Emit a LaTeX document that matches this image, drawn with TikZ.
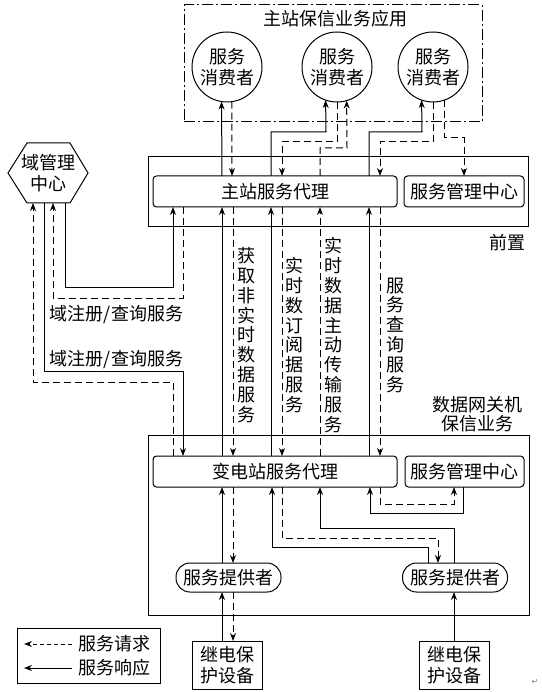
\documentclass[tikz,border=0pt]{standalone}
\usepackage{fontspec}
\setmainfont{Noto Sans CJK SC}
\newfontfamily\symfont{DejaVu Sans}
\usetikzlibrary{arrows.meta}
\begin{document}
\begin{tikzpicture}[x=1pt,y=-1pt,
  every node/.style={font=\fontsize{18}{21}\selectfont, inner sep=0pt, outer sep=0pt},
  frame/.style={draw, line width=1pt},
  rbox/.style={draw, line width=1pt, rounded corners=3.5pt, minimum height=31pt},
  consumer/.style={draw, circle, line width=1pt, minimum size=70pt, align=center},
  prov/.style={draw, line width=1pt, rounded corners=14pt, minimum width=105pt, minimum height=29pt},
  dev/.style={draw, line width=1pt, minimum width=70pt, minimum height=48pt, align=center},
  resp/.style={line width=1pt, -{Stealth[length=8pt,width=6pt]}},
  req/.style={line width=1pt, dash pattern=on 7pt off 4pt, -{Stealth[length=8pt,width=6pt]}},
  vlabel/.style={align=center, font=\fontsize{18}{19.8}\selectfont},
]
\useasboundingbox (0,0) rectangle (541,692);

% application box
\node[frame, dash pattern=on 11pt off 3pt on 2pt off 3pt, minimum width=298pt, minimum height=117pt] (app) at (333,63.5) {};
\node (apptitle) at (335,19) {主站保信业务应用};
\node[consumer] (c1) at (227,67) {服务\\消费者};
\node[consumer] (c2) at (337,67) {服务\\消费者};
\node[consumer] (c3) at (433,67) {服务\\消费者};

% front box
\node[frame, minimum width=380pt, minimum height=70pt] (fw) at (338,192) {};
\node[rbox, minimum width=244pt] (ma) at (275,191.5) {主站服务代理};
\node[rbox, minimum width=120pt] (mm) at (464,191.5) {服务管理中心};
\node (fwlabel) at (507,243) {前置};

% domain management hexagon
\node[minimum width=80pt, minimum height=60pt, align=center] (dm) at (48,173) {域管理\\中心};
\draw[line width=1pt] (dm.west) -- ([xshift=19pt]dm.north west) -- ([xshift=-18pt]dm.north east)
  -- (dm.east) -- ([xshift=-18pt]dm.south east) -- ([xshift=19pt]dm.south west) -- cycle;

% gateway box
\node[frame, minimum width=381pt, minimum height=180pt] (gw) at (338.5,525) {};
\node[align=center, font=\fontsize{18}{19}\selectfont] (gwlabel) at (477,414) {数据网关机\\保信业务};
\node[rbox, minimum width=244pt] (sa) at (275,471.5) {变电站服务代理};
\node[rbox, minimum width=119pt] (sm) at (464.5,471.5) {服务管理中心};
\node[prov] (p1) at (228.5,577.5) {服务提供者};
\node[prov] (p2) at (455,577.5) {服务提供者};

% relay devices
\node[dev] (r1) at (227,665) {继电保\\护设备};
\node[dev] (r2) at (454,665) {继电保\\护设备};

% column labels
\node[vlabel] (l1) at (246,335) {获\\取\\非\\实\\时\\数\\据\\服\\务};
\node[vlabel] (l2) at (294,335) {实\\时\\数\\订\\阅\\据\\服\\务};
\node[vlabel] (l3) at (333,335) {实\\时\\数\\据\\主\\动\\传\\输\\服\\务};
\node[vlabel] (l4) at (395,335) {服\\务\\查\\询\\服\\务};
\node (d1) at (116.5,315) {域注册/查询服务};
\node (d2) at (116.5,360) {域注册/查询服务};

% consumers <-> master agent
\draw[resp] (ma.north -| 222,0) -- (c1.261.8);
\draw[req] (c1.278.2) -- (ma.north -| 232,0);
\draw[resp] (ma.north -| 271,0) |- (326,132) -- (c2.251.7);
\draw[req] (c2.south) |- (282,142) -- (ma.north -| 282,0);
\draw[req] (ma.north -| 320,0) |- (347,148) -- (c2.286.6);
\draw[resp] (ma.north -| 369,0) |- (422,132) -- (c3.251.7);
\draw[req] (c3.south) |- (380,142) -- (ma.north -| 380,0);
\draw[req] (c3.290) |- (464,138) -- (mm.north -| 464,0);

% domain management
\draw[resp] (dm.south -| 65,0) |- (173,287) -- (ma.south -| 173,0);
\draw[req] (ma.south -| 183,0) |- (53,298) -- (dm.south -| 53,0);
\draw[resp] (dm.south -| 44,0) |- (183,371) -- (sa.north -| 183,0);
\draw[req] (sa.north -| 173,0) |- (33,382) -- (dm.south -| 33,0);

% master agent <-> substation agent
\draw[resp] (sa.north -| 222,0) -- (ma.south -| 222,0);
\draw[req] (ma.south -| 233,0) -- (sa.north -| 233,0);
\draw[resp] (sa.north -| 271,0) -- (ma.south -| 271,0);
\draw[req] (ma.south -| 282,0) -- (sa.north -| 282,0);
\draw[req] (sa.north -| 320,0) -- (ma.south -| 320,0);
\draw[resp] (sa.north -| 369,0) -- (ma.south -| 369,0);
\draw[req] (ma.south -| 380,0) -- (sa.north -| 380,0);

% substation agent <-> providers / management
\draw[resp] (p1.north -| 222,0) -- (sa.south -| 222,0);
\draw[req] (sa.south -| 233,0) -- (p1.north -| 233,0);
\draw[resp] (p2.north -| 428,0) |- (272,547) -- (sa.south -| 272,0);
\draw[req] (sa.south -| 282,0) |- (438,538) -- (p2.north -| 438,0);
\draw[resp] (p2.north -| 454,0) |- (320,528) -- (sa.south -| 320,0);
\draw[resp] (sm.south -| 463,0) |- (370,513) -- (sa.south -| 370,0);
\draw[req] (sa.south -| 380,0) |- (454,504) -- (sm.south -| 454,0);

% devices <-> providers
\draw[resp] (r1.north -| 222,0) -- (p1.south -| 222,0);
\draw[req] (p1.south -| 233,0) -- (r1.north -| 233,0);
\draw[resp] (r2.north -| 454,0) -- (p2.south -| 454,0);

% legend
\node[frame, minimum width=143pt, minimum height=55pt] (lg) at (88.5,655.5) {};
\node[anchor=west] (lq) at (78,644) {服务请求};
\node[anchor=west] (lr) at (78,668) {服务响应};
\coordinate (lgl) at ([xshift=7pt]lg.west);
\draw[req, dash pattern=on 4pt off 3pt] ([xshift=-6pt]lq.west) -- (lgl |- lq.west);
\draw[resp] ([xshift=-6pt]lr.west) -- (lgl |- lr.west);

\node[font=\symfont\fontsize{8}{8}\selectfont, text=gray] (ret) at (535,682) {↵};
\end{tikzpicture}
\end{document}
